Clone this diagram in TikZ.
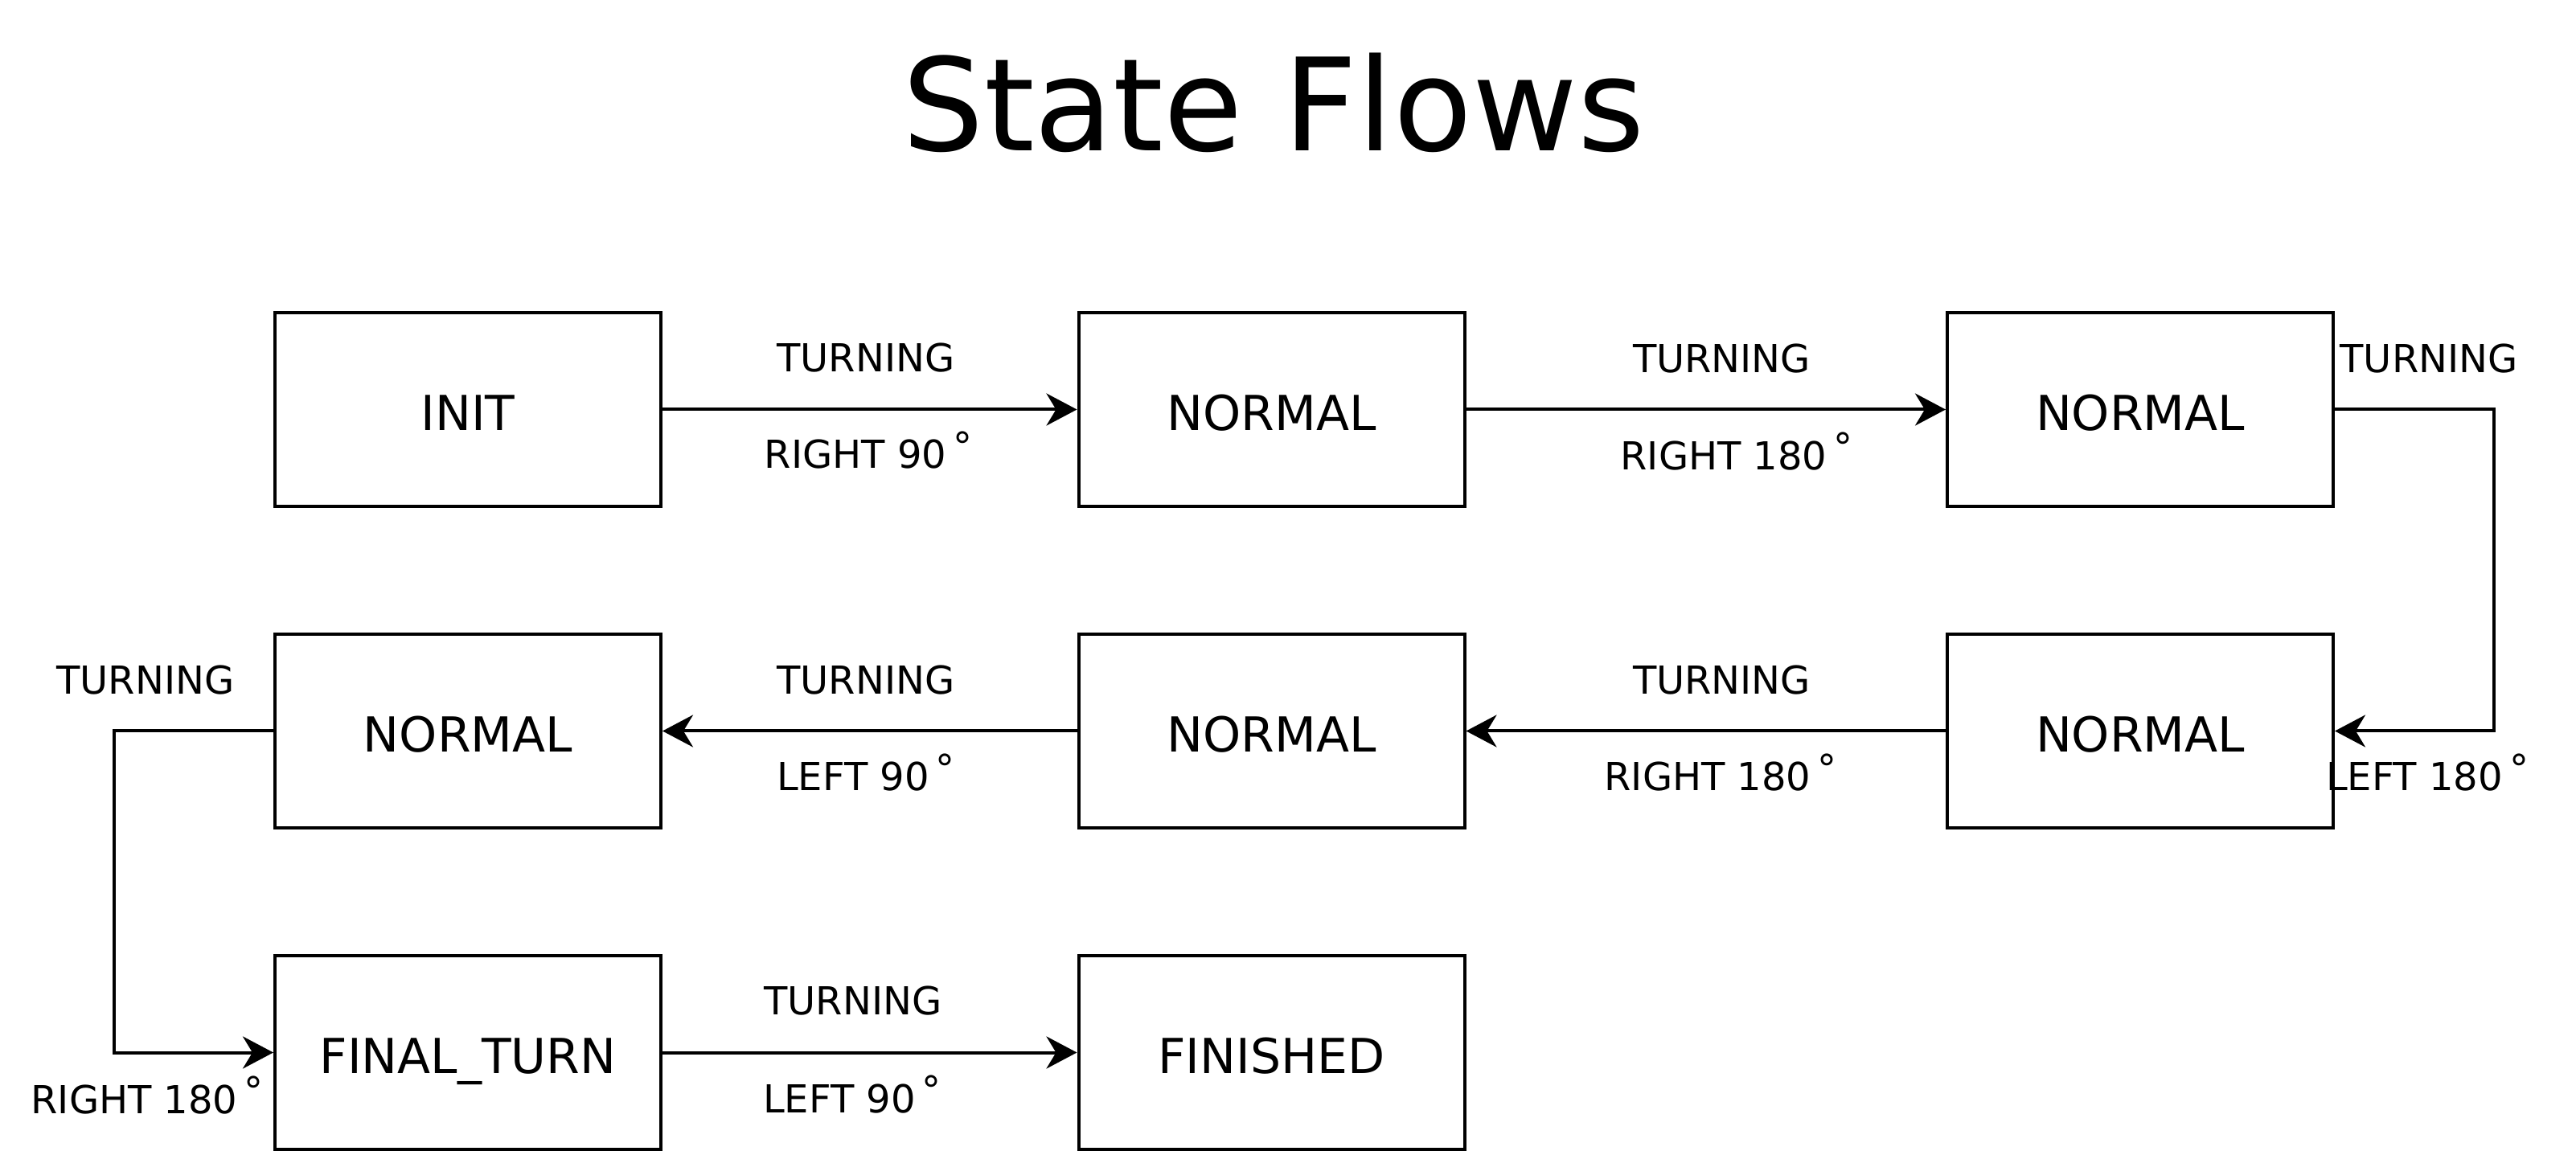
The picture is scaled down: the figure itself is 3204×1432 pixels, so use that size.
\documentclass[tikz,border=0pt]{standalone}
\usepackage{fontspec}
\setmainfont{DejaVu Sans}
\usetikzlibrary{arrows.meta}
\newcommand{\mydeg}{\,\raisebox{0.22em}{°}}
\begin{document}
\begin{tikzpicture}[x=0.25pt,y=-0.25pt,
  statebox/.style={draw, line width=1pt, minimum width=120pt, minimum height=60.25pt,
    inner sep=0pt, text height=13.2pt, text depth=0pt, font=\fontsize{15}{18}\selectfont},
  lab/.style={anchor=base, inner sep=0pt, font=\fontsize{12}{14}\selectfont},
  arr/.style={line width=1pt, -{Stealth[length=9.5pt, width=10pt, inset=3pt]}},
  titlestyle/.style={anchor=base, inner sep=0pt, font=\fontsize{40}{48}\selectfont}]
\useasboundingbox (0,0) rectangle (3204,1432);
% title
\node[titlestyle] (title) at (1584,188) {State Flows};
% states
\node[statebox] (init) at (582,509.5) {INIT};
\node[statebox] (n1) at (1581.5,509.5) {NORMAL};
\node[statebox] (n2) at (2662,509.5) {NORMAL};
\node[statebox] (n3) at (2662,909.5) {NORMAL};
\node[statebox] (n4) at (1581.5,909.5) {NORMAL};
\node[statebox] (n5) at (582,909.5) {NORMAL};
\node[statebox] (ft) at (582,1309.5) {FINAL\_TURN};
\node[statebox] (fin) at (1581.5,1309.5) {FINISHED};
% bend coordinates
\coordinate (rx) at (3102,0);
\coordinate (lx) at (142,0);
% connectors
\draw[arr] (init.east) -- (n1.west);
\draw[arr] (n1.east) -- (n2.west);
\draw[arr] (n2.east) -- (n2.east -| rx) |- (n3.east);
\draw[arr] (n3.west) -- (n4.east);
\draw[arr] (n4.west) -- (n5.east);
\draw[arr] (n5.west) -- (n5.west -| lx) |- (ft.west);
\draw[arr] (ft.east) -- (fin.west);
% labels
\node[lab] (l1a) at (1077,463) {TURNING};
\node[lab] (l1b) at (1080,583) {RIGHT 90\mydeg};
\node[lab] (l2a) at (2141.5,464) {TURNING};
\node[lab] (l2b) at (2160,584.5) {RIGHT 180\mydeg};
\node[lab] (l3a) at (3021,464) {TURNING};
\node[lab] (l3b) at (3019,984) {LEFT 180\mydeg};
\node[lab] (l4a) at (2141.5,864) {TURNING};
\node[lab] (l4b) at (2140,984) {RIGHT 180\mydeg};
\node[lab] (l5a) at (1077,864) {TURNING};
\node[lab] (l5b) at (1077,984) {LEFT 90\mydeg};
\node[lab] (l6a) at (181,864) {TURNING};
\node[lab] (l6b) at (183,1385) {RIGHT 180\mydeg};
\node[lab] (l7a) at (1061,1263) {TURNING};
\node[lab] (l7b) at (1060,1384) {LEFT 90\mydeg};
\end{tikzpicture}
\end{document}
